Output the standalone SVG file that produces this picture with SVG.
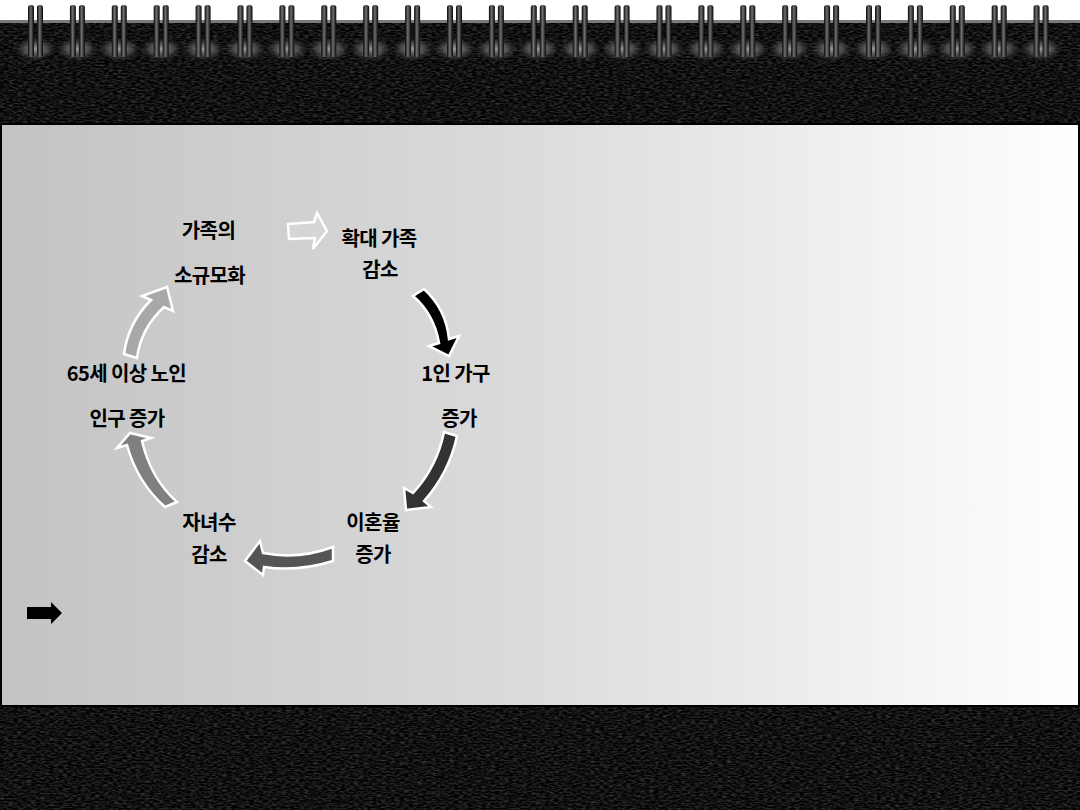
<svg xmlns="http://www.w3.org/2000/svg" xmlns:xlink="http://www.w3.org/1999/xlink" width="1080" height="810" viewBox="0 0 1080 810">
<defs>
  <filter id="leather" x="0" y="0" width="100%" height="100%" color-interpolation-filters="sRGB">
    <feTurbulence type="fractalNoise" baseFrequency="0.22 0.6" numOctaves="2" seed="7" result="n"/>
    <feColorMatrix in="n" type="matrix" values="0.4 0 0 0 -0.13  0.4 0 0 0 -0.13  0.4 0 0 0 -0.13  0 0 0 0 1"/>
  </filter>
  <linearGradient id="panelGrad" x1="0" y1="0" x2="1" y2="0">
    <stop offset="0" stop-color="#c3c3c3"/>
    <stop offset="0.5" stop-color="#dcdcdc"/>
    <stop offset="1" stop-color="#ffffff"/>
  </linearGradient>
  <linearGradient id="barGrad" x1="0" y1="0" x2="1" y2="0">
    <stop offset="0" stop-color="#050505"/>
    <stop offset="0.45" stop-color="#707070"/>
    <stop offset="1" stop-color="#050505"/>
  </linearGradient>
  <radialGradient id="glow" cx="0.5" cy="0.5" r="0.5">
    <stop offset="0" stop-color="#9a9a9a" stop-opacity="1"/>
    <stop offset="0.55" stop-color="#5e5e5e" stop-opacity="0.7"/>
    <stop offset="1" stop-color="#333333" stop-opacity="0"/>
  </radialGradient>
  <g id="ring">
    <ellipse cx="0" cy="49" rx="21" ry="12" fill="url(#glow)"/>
    <rect x="-7.5" y="5" width="6" height="52" rx="2.5" fill="url(#barGrad)"/>
    <rect x="1.5" y="5" width="6" height="52" rx="2.5" fill="url(#barGrad)"/>
  </g>
  <style>
    .lbl { font-family: "Noto Sans CJK KR", "Noto Sans", sans-serif; font-size: 20px; font-weight: 700; fill: #000; text-anchor: middle; letter-spacing: -0.6px; }
    .arw { stroke: #ffffff; stroke-width: 2.5; stroke-linejoin: miter; }
  </style>
</defs>

<g id="background">
  <rect x="0" y="0" width="1080" height="810" fill="#ffffff"/>
  <rect x="0" y="23" width="1080" height="101" fill="#151515" filter="url(#leather)"/>
  <rect x="0" y="20" width="1080" height="3" fill="#7a7a7a"/>
  <rect x="0" y="706" width="1080" height="104" fill="#151515" filter="url(#leather)"/>
</g>

<g id="rings">
  <use xlink:href="#ring" x="35.5"/>
  <use xlink:href="#ring" x="77.4"/>
  <use xlink:href="#ring" x="119.3"/>
  <use xlink:href="#ring" x="161.2"/>
  <use xlink:href="#ring" x="203.1"/>
  <use xlink:href="#ring" x="245"/>
  <use xlink:href="#ring" x="286.9"/>
  <use xlink:href="#ring" x="328.8"/>
  <use xlink:href="#ring" x="370.7"/>
  <use xlink:href="#ring" x="412.6"/>
  <use xlink:href="#ring" x="454.5"/>
  <use xlink:href="#ring" x="496.4"/>
  <use xlink:href="#ring" x="538.3"/>
  <use xlink:href="#ring" x="580.2"/>
  <use xlink:href="#ring" x="622.1"/>
  <use xlink:href="#ring" x="664"/>
  <use xlink:href="#ring" x="705.9"/>
  <use xlink:href="#ring" x="747.8"/>
  <use xlink:href="#ring" x="789.7"/>
  <use xlink:href="#ring" x="831.6"/>
  <use xlink:href="#ring" x="873.5"/>
  <use xlink:href="#ring" x="915.4"/>
  <use xlink:href="#ring" x="957.3"/>
  <use xlink:href="#ring" x="999.2"/>
  <use xlink:href="#ring" x="1041.1"/>
</g>

<g id="panel">
  <rect x="1" y="124" width="1078" height="582" fill="url(#panelGrad)" stroke="#000" stroke-width="2"/>
</g>

<g id="connectors">
  <path class="arw" fill="#d6d6d6" d="M288,224 L314,222 L317,213 L327,231 L313,249 L315,238 L289,239 Z"/>
  <path class="arw" fill="#000000" d="M413,296 L424,289 Q446,309 449,339 L459,336 L449,356 L429,346 L439,343 Q434,314 413,296 Z"/>
  <path class="arw" fill="#333333" d="M444,432 L457,436 Q449,473 424,501 L431,507 L406,510 L404,488 L413,493 Q437,467 444,432 Z"/>
  <path class="arw" fill="#555555" d="M333,547 L333,561 Q298,572 264,567 L263,575 L245,561 L260,541 L263,553 Q298,560 333,547 Z"/>
  <path class="arw" fill="#808080" d="M165,507 L177,502 Q151,479 142,441 L151,438 L130,433 L117,448 L127,445 Q137,482 165,507 Z"/>
  <path class="arw" fill="#a8a8a8" d="M124,354 L137,358 Q141,328 164,307 L173,311 L167,287 L142,296 L151,300 Q128,323 124,354 Z"/>
  <path fill="#000000" d="M27,607 L51,607 L51,602 L62,613 L51,624 L51,619 L27,619 Z"/>
</g>

<g id="node-family-shrink"><text class="lbl" x="208.5" y="238">가족의</text><text class="lbl" x="209.5" y="283">소규모화</text></g>
<g id="node-extended-decrease"><text class="lbl" x="379" y="246">확대 가족</text><text class="lbl" x="380" y="277">감소</text></g>
<g id="node-single-household"><text class="lbl" x="455.5" y="381">1인 가구</text><text class="lbl" x="459" y="426">증가</text></g>
<g id="node-divorce"><text class="lbl" x="373" y="530">이혼율</text><text class="lbl" x="373" y="562">증가</text></g>
<g id="node-children"><text class="lbl" x="209" y="530">자녀수</text><text class="lbl" x="209" y="562">감소</text></g>
<g id="node-elderly"><text class="lbl" x="126.5" y="381">65세 이상 노인</text><text class="lbl" x="127" y="426">인구 증가</text></g>
</svg>
